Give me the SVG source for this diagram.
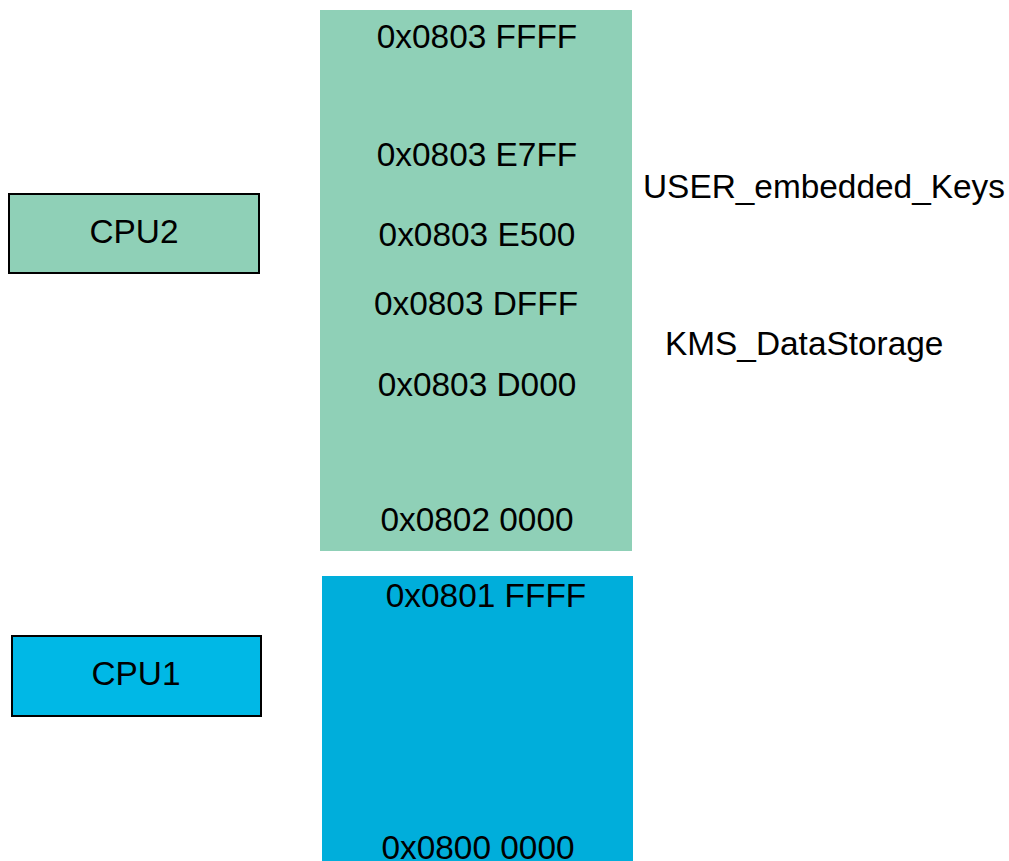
<svg xmlns="http://www.w3.org/2000/svg" width="1009" height="861" viewBox="0 0 1009 861">
  <style>
    text { font-family: "Liberation Sans", Arial, sans-serif; font-size: 33.4px; fill: #000; }
    .mid { text-anchor: middle; }
    .cpu { stroke: #000; stroke-width: 2; }
  </style>
  <rect width="1009" height="861" fill="#fff"/>

  <!-- Flash region owned by CPU2 -->
  <g id="flash-cpu2">
    <rect x="320" y="10" width="312" height="541" fill="#8fd0b7"/>
    <text class="mid" x="477" y="48">0x0803 FFFF</text>
    <text class="mid" x="477" y="166">0x0803 E7FF</text>
    <text class="mid" x="477" y="246">0x0803 E500</text>
    <text class="mid" x="476" y="315">0x0803 DFFF</text>
    <text class="mid" x="477" y="396">0x0803 D000</text>
    <text class="mid" x="477" y="531">0x0802 0000</text>
  </g>

  <!-- Flash region owned by CPU1 -->
  <g id="flash-cpu1">
    <rect x="322" y="576" width="311" height="290" fill="#00aedb"/>
    <text class="mid" x="486" y="607">0x0801 FFFF</text>
    <text class="mid" x="478" y="859">0x0800 0000</text>
  </g>

  <g id="cpu2">
    <rect class="cpu" x="9" y="194" width="250" height="79" fill="#8fd0b7"/>
    <text class="mid" x="134" y="243">CPU2</text>
  </g>

  <g id="cpu1">
    <rect class="cpu" x="12" y="636" width="249" height="80" fill="#00b8e6"/>
    <text class="mid" x="136" y="685">CPU1</text>
  </g>

  <g id="label-user-keys">
    <text x="643" y="198">USER_embedded_Keys</text>
  </g>
  <g id="label-kms">
    <text x="665" y="355">KMS_DataStorage</text>
  </g>

  <g id="connectors"/>
</svg>
